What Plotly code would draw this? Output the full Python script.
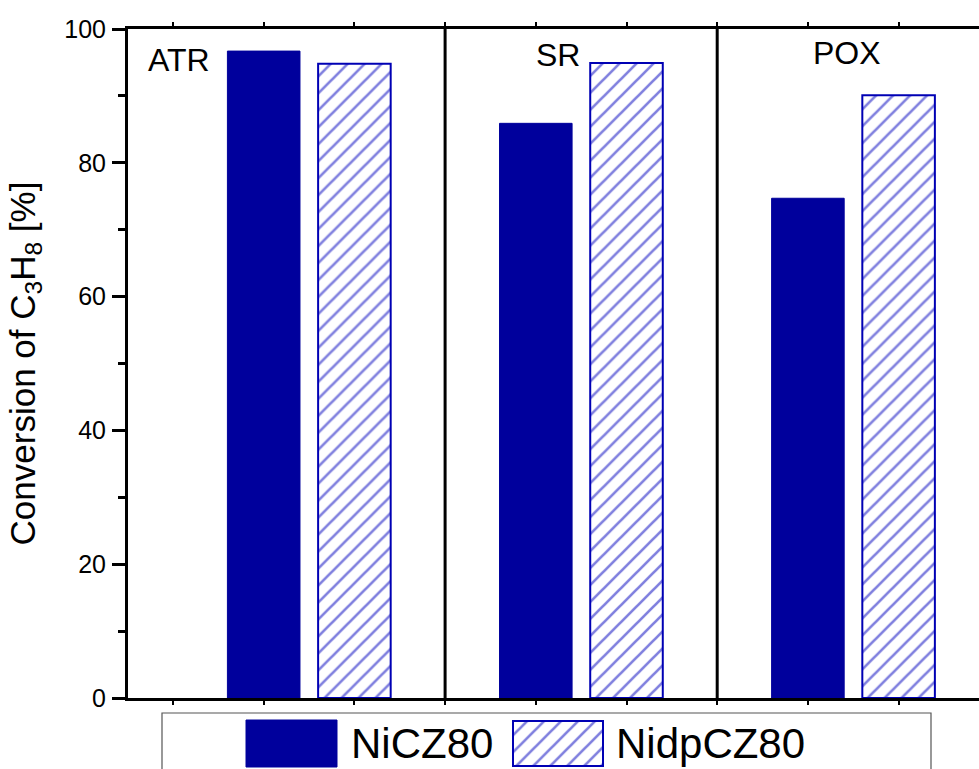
import plotly.graph_objects as go

# Reaction modes and C3H8 conversion (%) for each catalyst
categories = ["ATR", "SR", "POX"]
series_names = ["NiCZ80", "NidpCZ80"]
nicz80 = [96.7, 85.9, 74.7]
nidpcz80 = [94.8, 94.9, 90.1]
y_ticks = [0, 20, 40, 60, 80, 100]

FONT = "Liberation Sans, Arial, sans-serif"
SOLID = "#00009C"
HATCH = "#0000BE"
EDGE = "#0000B4"

W, H = 979, 769
ML, MT = 128, 29
plot_h = H - MT            # bottom margin is zero, plot area runs to page bottom
plot_w = W - ML

# each reaction mode occupies three x units: solid bar, hatched bar, separator
x_solid = [2 + 3 * i for i in range(len(categories))]
x_hatch = [3 + 3 * i for i in range(len(categories))]
separators = [4 + 3 * i for i in range(len(categories) - 1)]

unit = 90.7
x0 = 1 - 45 / unit
x1 = x0 + plot_w / unit

main_bottom = (H - 698) / plot_h

hatch = dict(shape="/", fgcolor=HATCH, bgcolor="white", size=12, solidity=0.22)

fig = go.Figure()

fig.add_trace(go.Bar(
    x=x_solid, y=nicz80, width=0.8, name=series_names[0],
    marker=dict(color=SOLID, line=dict(color=SOLID, width=1)),
    showlegend=False, xaxis="x", yaxis="y",
))
fig.add_trace(go.Bar(
    x=x_hatch, y=nidpcz80, width=0.8, name=series_names[1],
    marker=dict(color="white", line=dict(color=EDGE, width=2), pattern=hatch),
    showlegend=False, xaxis="x", yaxis="y",
))

# separators between reaction modes
for s in separators:
    fig.add_shape(type="line", xref="x", yref="y", x0=s, x1=s, y0=0, y1=100,
                  line=dict(color="black", width=3))

# reaction mode labels
label_pos = [(0.70, 95.4, "left"), (5.245, 96.1, "center"), (8.43, 96.4, "center")]
for name, (lx, ly, anc) in zip(categories, label_pos):
    fig.add_annotation(x=lx, y=ly, xref="x", yref="y", text=name, showarrow=False,
                       xanchor=anc, yanchor="middle",
                       font=dict(family=FONT, size=32, color="black"))

# legend panel drawn on its own pixel-scaled axes
leg_x0, leg_x1 = 162, 931
leg_top = 713
fig.add_trace(go.Bar(
    x=[291.5], y=[720 - 767], base=[767], width=[91],
    marker=dict(color=SOLID, line=dict(color=SOLID, width=1)),
    showlegend=False, hoverinfo="skip", xaxis="x2", yaxis="y2",
))
fig.add_trace(go.Bar(
    x=[558], y=[721 - 766], base=[766], width=[90],
    marker=dict(color="white", line=dict(color=EDGE, width=2), pattern=hatch),
    showlegend=False, hoverinfo="skip", xaxis="x2", yaxis="y2",
))
for tx, name in zip([349, 614], series_names):
    fig.add_annotation(x=tx, y=743, xref="x2", yref="y2", text=name, showarrow=False,
                       xanchor="left", yanchor="middle",
                       font=dict(family=FONT, size=42, color="black"))

fig.add_shape(type="rect", xref="paper", yref="paper",
              x0=(leg_x0 - ML) / plot_w, x1=(leg_x1 - ML) / plot_w,
              y0=-0.05, y1=(H - leg_top) / plot_h,
              line=dict(color="#555555", width=1.2), fillcolor="rgba(0,0,0,0)")

fig.update_layout(
    width=W, height=H,
    margin=dict(l=ML, r=0, t=MT, b=0, pad=0, autoexpand=False),
    plot_bgcolor="white", paper_bgcolor="white",
    font=dict(family=FONT, color="black"),
    barmode="overlay",
    xaxis=dict(
        domain=[0, 1], range=[x0, x1], anchor="y",
        tickmode="array", tickvals=list(range(1, 10)), showticklabels=False,
        ticks="outside", ticklen=4, tickwidth=2, tickcolor="black",
        showline=True, linecolor="black", linewidth=3, mirror="ticks",
        showgrid=False, zeroline=False, automargin=False,
    ),
    yaxis=dict(
        domain=[main_bottom, 1], range=[0, 100], anchor="x",
        tickmode="array", tickvals=y_ticks,
        ticks="outside", ticklen=13, tickwidth=3, tickcolor="black",
        minor=dict(dtick=10, tick0=0, ticks="outside", ticklen=7, tickwidth=3,
                   tickcolor="black", showgrid=False),
        ticklabelstandoff=1,
        tickfont=dict(family=FONT, size=25, color="black"),
        showline=True, linecolor="black", linewidth=3, mirror=False,
        showgrid=False, zeroline=False, automargin=False,
        title=dict(text="Conversion of C<sub>3</sub>H<sub>8</sub> [%]",
                   font=dict(family=FONT, size=35, color="black"), standoff=19),
    ),
    xaxis2=dict(
        domain=[0, 1], range=[ML, W], anchor="y2",
        visible=False, fixedrange=True, automargin=False,
    ),
    yaxis2=dict(
        domain=[0, (H - leg_top) / plot_h], range=[H, leg_top], anchor="x2",
        visible=False, fixedrange=True, automargin=False,
    ),
)

fig.write_html("out.html")
